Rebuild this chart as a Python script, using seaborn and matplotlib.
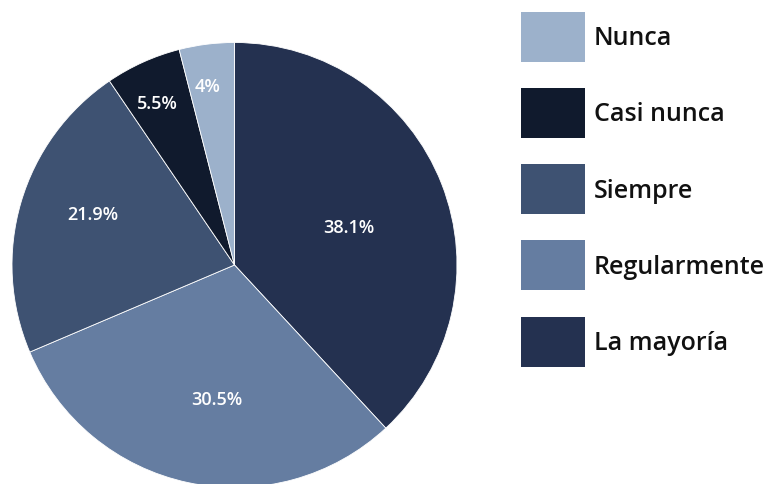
import matplotlib
matplotlib.use("Agg")
import matplotlib.pyplot as plt
from matplotlib.patches import Patch
import numpy as np
import seaborn as sns

# Survey responses, in the order the slices run clockwise from 12 o'clock
categories = ["La mayoría", "Regularmente", "Siempre", "Casi nunca", "Nunca"]
shares = [38.1, 30.5, 21.9, 5.5, 4.0]
share_labels = ["38.1%", "30.5%", "21.9%", "5.5%", "4%"]
legend_order = ["Nunca", "Casi nunca", "Siempre", "Regularmente", "La mayoría"]

colors = {
    "La mayoría": "#243150",
    "Regularmente": "#657da1",
    "Siempre": "#3e5272",
    "Casi nunca": "#101a2d",
    "Nunca": "#9cb1cb",
}
# placement of each percentage label: fraction of radius, angular nudge (deg)
label_radius = [0.542, 0.607, 0.676, 0.807, 0.814]
label_nudge = [-3.0, 4.6, -3.4, 1.3, 1.5]

sns.set_theme(style="white")
plt.rcParams["font.family"] = ["Open Sans", "DejaVu Sans"]

W, H = 775, 485
fig = plt.figure(figsize=(W / 100, H / 100), dpi=100)
fig.patch.set_facecolor("white")

# square axes holding the pie (pixel geometry of the circle)
cx, cy, r = 234.5, 266.0, 222.5
ax = fig.add_axes([(cx - r) / W, (H - cy - r) / H, 2 * r / W, 2 * r / H])
wedges, _ = ax.pie(
    shares,
    colors=[colors[c] for c in categories],
    startangle=90,
    counterclock=False,
    radius=1.0,
    wedgeprops=dict(edgecolor="white", linewidth=0.6),
)
ax.set_xlim(-1, 1)
ax.set_ylim(-1, 1)
ax.set_aspect("equal")
ax.axis("off")

for w, lab, rr, dn in zip(wedges, share_labels, label_radius, label_nudge):
    mid = np.deg2rad((w.theta1 + w.theta2) / 2 + dn)
    ax.text(rr * np.cos(mid), rr * np.sin(mid), lab, color="white",
            ha="center", va="center", fontsize=13, fontweight="semibold")

# legend: 64x50 px swatches on a 76 px pitch
fs = 18.0
px = fs * 100 / 72
sw_w, sw_h, pitch = 64.0, 50.0, 76.3
handles = [Patch(facecolor=colors[c], edgecolor="none") for c in legend_order]
fig.legend(
    handles, legend_order,
    loc="upper left",
    bbox_to_anchor=(521 / W, 1 - 12.5 / H),
    frameon=False,
    borderpad=0, borderaxespad=0,
    prop=dict(weight="semibold", size=fs),
    handlelength=sw_w / px,
    handleheight=(sw_h / px - 0.245) / 0.65,
    handletextpad=9 / px,
    labelspacing=(pitch - sw_h) / px,
    labelcolor="#111111",
)

fig.savefig("out.png", dpi=100, facecolor="white")
